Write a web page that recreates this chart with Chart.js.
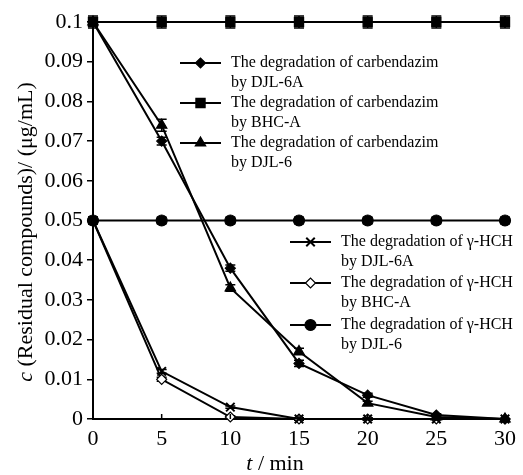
<!DOCTYPE html>
<html><head><meta charset="utf-8">
<script src="https://cdn.jsdelivr.net/npm/chart.js@4/dist/chart.umd.min.js"></script>
<style>html,body{margin:0;padding:0;background:#fff}#wrap{width:523px;height:475px}</style>
</head><body><div id="wrap"><canvas id="c" width="523" height="475"></canvas></div>
<script>
// ---- data ----
const times = [0, 5, 10, 15, 20, 25, 30];
const carbDJL6A = [0.1, 0.070, 0.038, 0.014, 0.006, 0.001, 0];
const carbBHCA  = [0.1, 0.1, 0.1, 0.1, 0.1, 0.1, 0.1];
const carbDJL6  = [0.1, 0.074, 0.033, 0.017, 0.004, 0.0005, 0];
const hchDJL6A  = [0.05, 0.012, 0.003, 0, 0, 0, 0];
const hchBHCA   = [0.05, 0.010, 0.0005, 0, 0, 0, 0];
const hchDJL6   = [0.05, 0.05, 0.05, 0.05, 0.05, 0.05, 0.05];
const errCarbDJL6A = [0.001, 0.001, 0.0008, 0.0008, 0.0005, 0.0003, 0];
const errCarbBHCA  = [0.0015, 0.0015, 0.0015, 0.0015, 0.0015, 0.0015, 0.0015];
const errCarbDJL6  = [0.001, 0.0015, 0.0008, 0.0008, 0.0005, 0.0003, 0];
const errHchDJL6A  = [0.0008, 0.0005, 0.0003, 0.0003, 0.0003, 0, 0];
const errHchBHCA   = [0.0008, 0.0005, 0.0003, 0.0003, 0.0003, 0, 0];
const errHchDJL6   = [0.0008, 0.0008, 0.0008, 0.0008, 0.0008, 0.0008, 0.0008];
const seriesNames = [
  ["The degradation of carbendazim", "by DJL-6A"],
  ["The degradation of carbendazim", "by BHC-A"],
  ["The degradation of carbendazim", "by DJL-6"],
  ["The degradation of \u03b3-HCH", "by DJL-6A"],
  ["The degradation of \u03b3-HCH", "by BHC-A"],
  ["The degradation of \u03b3-HCH", "by DJL-6"]
];
const xTicks = [0, 5, 10, 15, 20, 25, 30];
const yTicks = [0, 0.01, 0.02, 0.03, 0.04, 0.05, 0.06, 0.07, 0.08, 0.09, 0.1];
const yTitleItalic = "c";
const yTitleRest = " (Residual compounds)/ (\u03bcg/mL)";
const xTitleItalic = "t";
const xTitleRest = " / min";

const SERIF = "'Liberation Serif', 'Times New Roman', serif";
const pts = (ys) => times.map((t, i) => ({x: t, y: ys[i]}));

const styles = [
  {pointStyle: 'rectRot', radius: 5, bg: '#000', order: 2},
  {pointStyle: 'rect', radius: 6.5, bg: '#000', order: 0},
  {pointStyle: 'triangle', radius: 6, bg: '#000', order: 2},
  {pointStyle: 'crossRot', radius: 6, bg: '#000', order: 2},
  {pointStyle: 'rectRot', radius: 5, bg: '#fff', order: 2},
  {pointStyle: 'circle', radius: 5.5, bg: '#000', order: 0}
];
const allData = [carbDJL6A, carbBHCA, carbDJL6, hchDJL6A, hchBHCA, hchDJL6];
const allErr = [errCarbDJL6A, errCarbBHCA, errCarbDJL6, errHchDJL6A, errHchBHCA, errHchDJL6];

const datasets = allData.map((d, i) => ({
  label: seriesNames[i].join(' '),
  data: pts(d),
  errors: allErr[i],
  order: styles[i].order,
  borderColor: '#000',
  borderWidth: 2,
  backgroundColor: styles[i].bg,
  pointStyle: styles[i].pointStyle,
  pointRadius: styles[i].radius,
  pointBackgroundColor: styles[i].bg,
  pointBorderColor: '#000',
  pointBorderWidth: styles[i].pointStyle === 'crossRot' ? 2 : 1.2,
  tension: 0,
  clip: false
}));

const legendLayout = [
  {x0: 180, x1: 221, tx: 231, ys: [63, 103, 143], idx: [0, 1, 2]},
  {x0: 290, x1: 331, tx: 341, ys: [242, 283, 325], idx: [3, 4, 5]}
];

function drawMarker(ctx, st, x, y) {
  ctx.save();
  ctx.fillStyle = st.bg;
  ctx.strokeStyle = '#000';
  ctx.lineWidth = st.pointStyle === 'crossRot' ? 2 : 1.2;
  Chart.helpers.drawPoint(ctx, {pointStyle: st.pointStyle, radius: st.radius, rotation: 0, borderWidth: ctx.lineWidth}, x, y);
  ctx.restore();
}

const custom = {
  id: 'custom',
  beforeDatasetsDraw(chart) {
    const ctx = chart.ctx;
    const ys = chart.scales.y;
    ctx.save();
    ctx.strokeStyle = '#000';
    ctx.lineWidth = 1.5;
    chart.data.datasets.forEach((ds, di) => {
      const meta = chart.getDatasetMeta(di);
      meta.data.forEach((el, i) => {
        const e = ds.errors[i];
        if (!e) return;
        const v = ds.data[i].y;
        const top = ys.getPixelForValue(v + e);
        const bot = ys.getPixelForValue(v - e);
        ctx.beginPath();
        ctx.moveTo(el.x, top); ctx.lineTo(el.x, bot);
        ctx.moveTo(el.x - 5, top); ctx.lineTo(el.x + 5, top);
        ctx.moveTo(el.x - 5, bot); ctx.lineTo(el.x + 5, bot);
        ctx.stroke();
      });
    });
    ctx.restore();
  },
  afterDraw(chart) {
    const ctx = chart.ctx;
    const xs = chart.scales.x;
    const area = chart.chartArea;
    ctx.save();
    // inward x ticks
    ctx.strokeStyle = '#000';
    ctx.lineWidth = 1.5;
    xTicks.forEach(t => {
      const px = xs.getPixelForValue(t);
      ctx.beginPath();
      ctx.moveTo(px, area.bottom);
      ctx.lineTo(px, area.bottom - 5);
      ctx.stroke();
    });
    // legends
    legendLayout.forEach(L => {
      L.idx.forEach((di, k) => {
        const y = L.ys[k];
        ctx.strokeStyle = '#000';
        ctx.lineWidth = 2;
        ctx.beginPath();
        ctx.moveTo(L.x0, y); ctx.lineTo(L.x1, y);
        ctx.stroke();
        drawMarker(ctx, styles[di], (L.x0 + L.x1) / 2, y);
        ctx.fillStyle = '#000';
        ctx.font = '16px ' + SERIF;
        ctx.textBaseline = 'middle';
        ctx.textAlign = 'left';
        ctx.fillText(seriesNames[di][0], L.tx, y);
        ctx.fillText(seriesNames[di][1], L.tx, y + 20);
      });
    });
    // y title
    ctx.fillStyle = '#000';
    ctx.textBaseline = 'middle';
    ctx.textAlign = 'left';
    ctx.save();
    ctx.translate(26, 232);
    ctx.rotate(-Math.PI / 2);
    ctx.font = 'italic 22px ' + SERIF;
    const w1 = ctx.measureText(yTitleItalic).width;
    ctx.font = '22px ' + SERIF;
    const w2 = ctx.measureText(yTitleRest).width;
    let sx = -(w1 + w2) / 2;
    ctx.font = 'italic 22px ' + SERIF;
    ctx.fillText(yTitleItalic, sx, 0);
    ctx.font = '22px ' + SERIF;
    ctx.fillText(yTitleRest, sx + w1, 0);
    ctx.restore();
    // x title
    ctx.font = 'italic 22px ' + SERIF;
    const a1 = ctx.measureText(xTitleItalic).width;
    ctx.font = '22px ' + SERIF;
    const a2 = ctx.measureText(xTitleRest).width;
    let ax = 275 - (a1 + a2) / 2;
    ctx.font = 'italic 22px ' + SERIF;
    ctx.fillText(xTitleItalic, ax, 464);
    ctx.font = '22px ' + SERIF;
    ctx.fillText(xTitleRest, ax + a1, 464);
    ctx.restore();
  }
};

new Chart(document.getElementById('c'), {
  type: 'line',
  data: {datasets},
  options: {
    responsive: false,
    animation: false,
    devicePixelRatio: 1,
    layout: {padding: {left: 0, right: 13, top: 22, bottom: 0}},
    plugins: {legend: {display: false}, tooltip: {enabled: false}},
    scales: {
      x: {
        type: 'linear', min: 0, max: 30,
        afterBuildTicks: (s) => { s.ticks = xTicks.map(v => ({value: v})); },
        ticks: {color: '#000', font: {family: SERIF, size: 22}, padding: 7, maxRotation: 0, autoSkip: false},
        grid: {display: true, drawOnChartArea: false, drawTicks: false, color: '#000'},
        border: {display: true, color: '#000', width: 2},
        afterFit: (s) => { s.height = 56; }
      },
      y: {
        type: 'linear', min: 0, max: 0.1,
        afterBuildTicks: (s) => { s.ticks = yTicks.map(v => ({value: v})); },
        ticks: {color: '#000', font: {family: SERIF, size: 22}, padding: 4, autoSkip: false,
          callback: (v) => String(Number(v.toFixed(3)))},
        grid: {display: true, drawOnChartArea: false, drawTicks: true, tickLength: 6, color: '#000', lineWidth: 1.5},
        border: {display: true, color: '#000', width: 2},
        afterFit: (s) => { s.width = 93; }
      }
    }
  },
  plugins: [custom]
});
</script>
</body></html>
